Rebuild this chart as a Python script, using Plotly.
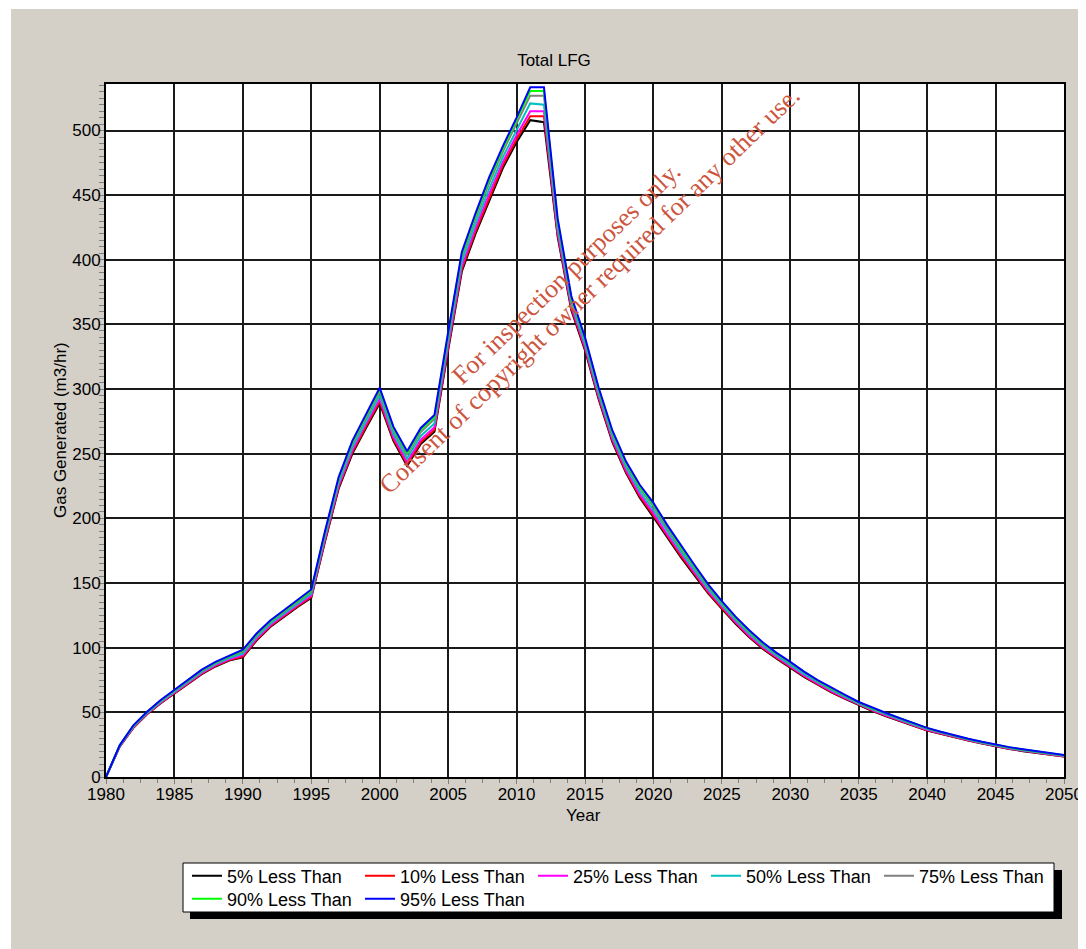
import plotly.graph_objects as go

years = list(range(1980, 2051))

p05 = [0, 23.5, 38, 48.5, 57, 64.5, 72, 79.5, 85.5, 90, 92.5, 105.5, 116, 124, 131.5, 138.5,
       182, 223, 250, 270, 289, 260, 240.5, 257.5, 267, 330, 391, 420, 446, 471, 491, 508, 506.5,
       418, 361, 330, 292, 259, 235, 216, 201, 185, 170, 156, 142, 130, 118.5, 108, 99, 91.5, 84.5,
       77.5, 71.5, 65.5, 60.5, 55.5, 51, 47, 43, 39.5, 36, 33.3, 30.6, 28.2, 25.8, 23.5, 21.7, 20.0,
       18.5, 17.1, 15.8]
p10 = [0, 23.6, 38.2, 48.7, 57.3, 64.9, 72.4, 79.9, 85.9, 90.5, 93.2, 106.2, 116.6, 124.6, 132.2, 139.3,
       183.0, 224.1, 251.2, 271.3, 290.4, 261.3, 241.9, 259.0, 268.6, 331.7, 392.8, 421.9, 448.2, 473.0, 493.3, 511, 511,
       419.7, 362.3, 331.2, 293.1, 260.1, 236.1, 217.2, 202.3, 186.2, 171.1, 157.0, 142.8, 130.7, 119.2, 108.7, 99.6, 92.0, 85.0,
       78.0, 71.9, 65.9, 60.9, 55.8, 51.3, 47.3, 43.3, 39.7, 36.2, 33.5, 30.8, 28.4, 26.0, 23.7, 21.9, 20.2,
       18.7, 17.3, 15.9]
p25 = [0, 23.8, 38.6, 49.1, 57.7, 65.3, 73.0, 80.5, 86.5, 91.1, 94.2, 107.0, 117.4, 125.4, 133.0, 140.3,
       184.2, 225.5, 252.8, 273.1, 292.4, 263.1, 243.7, 261.0, 270.6, 333.9, 395.2, 424.5, 451.0, 475.8, 496.3, 515, 515,
       421.9, 364.1, 332.8, 294.5, 261.5, 237.5, 218.8, 204.1, 187.8, 172.5, 158.2, 144.0, 131.7, 120.0, 109.5, 100.4, 92.8, 85.8,
       78.6, 72.5, 66.5, 61.3, 56.2, 51.7, 47.7, 43.7, 40.1, 36.6, 33.8, 31.0, 28.6, 26.2, 23.9, 22.1, 20.4,
       18.9, 17.5, 16.1]
p50 = [0, 24.0, 39.0, 49.5, 58.3, 66.0, 73.8, 81.3, 87.3, 92.0, 95.5, 108.3, 118.5, 126.5, 134.3, 141.8,
       186.0, 227.5, 255.0, 275.5, 295.0, 265.5, 246.3, 263.8, 273.5, 337.0, 398.5, 428.0, 455.0, 479.5, 500.5, 521, 520,
       425.0, 366.5, 335.0, 296.5, 263.5, 239.5, 221.0, 206.5, 190.0, 174.5, 160.0, 145.5, 133.0, 121.3, 110.8, 101.5, 93.8, 86.8,
       79.5, 73.3, 67.3, 62.0, 56.8, 52.3, 48.3, 44.3, 40.5, 37.0, 34.2, 31.4, 28.9, 26.5, 24.3, 22.4, 20.7,
       19.2, 17.8, 16.4]
p75 = [0, 24.3, 39.5, 50.0, 58.9, 66.8, 74.6, 82.1, 88.1, 93.0, 97.0, 109.6, 119.8, 127.8, 135.6, 143.4,
       188.0, 229.8, 257.5, 278.3, 298.0, 268.3, 249.1, 266.9, 276.8, 340.5, 402.3, 432.0, 459.5, 483.8, 505.3, 527, 527,
       428.5, 369.3, 337.5, 298.8, 265.8, 241.8, 223.5, 209.3, 192.5, 176.8, 162.0, 147.3, 134.5, 122.6, 112.1, 102.8, 94.9, 87.9,
       80.5, 74.1, 68.1, 62.8, 57.4, 52.9, 48.9, 44.9, 41.0, 37.5, 34.6, 31.8, 29.3, 26.9, 24.6, 22.8, 21.1,
       19.5, 18.1, 16.7]
p90 = [0, 24.4, 39.8, 50.3, 59.2, 67.1, 75.1, 82.6, 88.6, 93.5, 97.8, 110.3, 120.4, 128.4, 136.3, 144.2,
       189.0, 230.9, 258.8, 279.7, 299.6, 269.7, 250.6, 268.5, 278.4, 342.3, 404.2, 434.1, 461.8, 486.0, 507.7, 530.5, 530.5,
       430.3, 370.7, 338.8, 299.9, 266.9, 242.9, 224.8, 210.7, 193.8, 177.9, 163.0, 148.2, 135.3, 123.3, 112.8, 103.4, 95.5, 88.5,
       81.0, 74.6, 68.6, 63.1, 57.7, 53.2, 49.2, 45.2, 41.3, 37.8, 34.8, 32.0, 29.4, 27.0, 24.8, 22.9, 21.2,
       19.6, 18.2, 16.9]
p95 = [0, 24.5, 40, 50.5, 59.5, 67.5, 75.5, 83, 89, 94, 98.5, 111, 121, 129, 137, 145,
       190, 232, 260, 281, 301, 271, 252, 270, 280, 344, 406, 436, 464, 488, 510, 533.5, 533.5,
       432, 372, 340, 301, 268, 244, 226, 212, 195, 179, 164, 149, 136, 124, 113.5, 104, 96, 89,
       81.5, 75, 69, 63.5, 58, 53.5, 49.5, 45.5, 41.5, 38, 35, 32.2, 29.6, 27.2, 25, 23.1, 21.4,
       19.8, 18.4, 17]

series_names = ["5% Less Than", "10% Less Than", "25% Less Than", "50% Less Than",
                "75% Less Than", "90% Less Than", "95% Less Than"]
series_values = [p05, p10, p25, p50, p75, p90, p95]
series_colors = ["#000000", "#ff0000", "#ff00ff", "#00c0c0", "#808080", "#00ff00", "#0000ff"]

x_ticks = list(range(1980, 2051, 5))
y_ticks = list(range(0, 501, 50))

# page offset of the figure (body margin)
OX, OY = 8, 8
W, H = 1086 - OX, 949 - OY
# plot area in page pixels
PL, PR, PT, PB = 106, 1064, 84, 777
L, R, T, B = PL - OX, (OX + W) - PR, PT - OY, (OY + H) - PB
PW = PR - PL
PH = PB - PT


def px_x(px):
    return (px - PL) / PW


def px_y(py):
    return (PB - py) / PH


FONT = "Liberation Sans, Arial, sans-serif"
SERIF = "Liberation Serif, Times New Roman, serif"

fig = go.Figure()
for i, (name, vals, col) in enumerate(zip(series_names, series_values, series_colors)):
    fig.add_trace(go.Scatter(
        x=years, y=vals, mode="lines", name=name,
        line=dict(color=col, width=2),
        legend="legend" if i < 5 else "legend2",
    ))

shapes = [
    dict(type="rect", xref="paper", yref="paper", x0=px_x(OX), x1=px_x(11), y0=px_y(949), y1=px_y(OY),
         fillcolor="white", line=dict(width=0), layer="below"),
    dict(type="rect", xref="paper", yref="paper", x0=px_x(OX), x1=px_x(1086), y0=px_y(9), y1=px_y(OY),
         fillcolor="white", line=dict(width=0), layer="below"),
    # legend shadow and box
    dict(type="rect", xref="paper", yref="paper", x0=px_x(190), x1=px_x(1062), y0=px_y(919), y1=px_y(870),
         fillcolor="black", line=dict(width=0), layer="above"),
    dict(type="rect", xref="paper", yref="paper", x0=px_x(183), x1=px_x(1054), y0=px_y(912), y1=px_y(863),
         fillcolor="white", line=dict(color="black", width=1), layer="above"),
]

annotations = [
    dict(text="For inspection purposes only.", xref="paper", yref="paper",
         x=px_x(566), y=px_y(273), showarrow=False, textangle=-44,
         font=dict(family=SERIF, size=26, color="#cc5540"),
         xanchor="center", yanchor="middle"),
    dict(text="Consent of copyright owner required for any other use.", xref="paper", yref="paper",
         x=px_x(589), y=px_y(290), showarrow=False, textangle=-44,
         font=dict(family=SERIF, size=26, color="#cc5540"),
         xanchor="center", yanchor="middle"),
    dict(text="Gas Generated (m3/hr)", xref="paper", yref="paper",
         x=px_x(60), y=px_y(430), showarrow=False, textangle=-90,
         font=dict(family=FONT, size=17, color="black"),
         xanchor="center", yanchor="middle"),
    dict(text="Year", xref="paper", yref="paper",
         x=px_x(583), y=px_y(815), showarrow=False,
         font=dict(family=FONT, size=17, color="black"),
         xanchor="center", yanchor="middle"),
]

axis_common = dict(
    showline=True, linecolor="black", linewidth=2, mirror=True,
    showgrid=True, gridcolor="#1a1a1a", gridwidth=2, zeroline=False,
    ticks="outside", ticklen=5, tickcolor="#808080", tickwidth=1,
    tickfont=dict(family=FONT, size=17, color="black"),
)

fig.update_layout(
    width=W, height=H,
    margin=dict(l=L, r=R, t=T, b=B, autoexpand=False),
    paper_bgcolor="#d4d0c8", plot_bgcolor="white",
    title=dict(text="Total LFG", x=(554 - OX) / W, xref="container", xanchor="center",
               y=1 - (60 - OY) / H, yref="container", yanchor="middle",
               font=dict(family=FONT, size=17, color="black")),
    xaxis=dict(range=[1980, 2050], tickvals=x_ticks, ticktext=[str(v) for v in x_ticks],
               ticklabelstandoff=-4,
               minor=dict(dtick=1.25, tick0=1980, ticks="outside", ticklen=4, tickcolor="#808080",
                          showgrid=False),
               **axis_common),
    yaxis=dict(range=[0, 536], tickvals=y_ticks, ticktext=[str(v) for v in y_ticks],
               ticklabelstandoff=-5,
               minor=dict(dtick=5, tick0=0, ticks="outside", ticklen=5, tickcolor="#808080",
                          showgrid=False),
               **axis_common),
    legend=dict(orientation="h", x=px_x(187), xanchor="left", y=px_y(876), yanchor="middle",
                bgcolor="rgba(0,0,0,0)", borderwidth=0, entrywidth=128, entrywidthmode="pixels",
                font=dict(family=FONT, size=18, color="black"), traceorder="normal"),
    legend2=dict(orientation="h", x=px_x(187), xanchor="left", y=px_y(899), yanchor="middle",
                 bgcolor="rgba(0,0,0,0)", borderwidth=0, entrywidth=128, entrywidthmode="pixels",
                 font=dict(family=FONT, size=18, color="black"), traceorder="normal"),
    shapes=shapes,
    annotations=annotations,
    showlegend=True,
)

fig.write_html("out.html")
